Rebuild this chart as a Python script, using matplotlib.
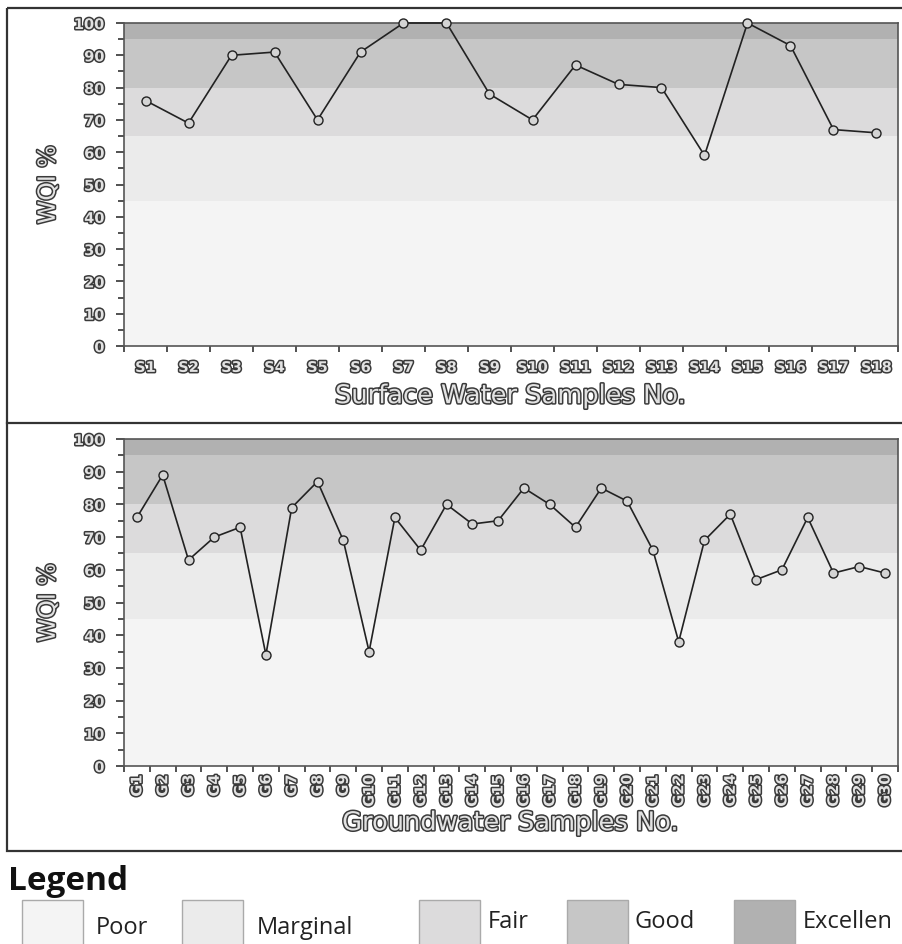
import numpy as np
from matplotlib import pyplot as plt
from matplotlib import patheffects as pe
from matplotlib.patches import Rectangle

# data
surface_labels = [f'S{i}' for i in range(1, 19)]
surface_wqi = [76, 69, 90, 91, 70, 91, 100, 100, 78, 70, 87, 81, 80, 59, 100, 93, 67, 66]

ground_labels = [f'G{i}' for i in range(1, 31)]
ground_wqi = [76, 89, 63, 70, 73, 34, 79, 87, 69, 35, 76, 66, 80, 74, 75,
              85, 80, 73, 85, 81, 66, 38, 69, 77, 57, 60, 76, 59, 61, 59]

class_names = ['Poor', 'Marginal', 'Fair', 'Good', 'Excellen']
class_bounds = [0, 45, 65, 80, 95, 100]
class_colors = ['#f4f4f4', '#ebebeb', '#dcdbdc', '#c6c6c6', '#b1b1b1']

W, H = 902, 945
outline = [pe.withStroke(linewidth=2.2, foreground='#3a3a3a')]


def px_axes(fig, left, top, right, bottom):
    return fig.add_axes([left / W, 1 - bottom / H, (right - left) / W, (bottom - top) / H])


def draw_panel(ax, labels, values, xlabel, rotate=False):
    n = len(values)
    x = np.arange(n)
    for lo, hi, c in zip(class_bounds[:-1], class_bounds[1:], class_colors):
        ax.axhspan(lo, hi, color=c, lw=0, zorder=0)
    ax.plot(x, values, color='#222222', lw=1.2, zorder=3, clip_on=False,
            marker='o', ms=6.5, mfc='#d4d4d4', mec='#222222', mew=1.0)
    ax.set_xlim(-0.5, n - 0.5)
    ax.set_ylim(0, 100)
    ax.set_yticks(np.arange(0, 101, 10))
    ax.set_yticks(np.arange(0, 101, 5), minor=True)
    ax.set_xticks(x)
    ax.set_xticks(np.arange(n + 1) - 0.5, minor=True)
    ax.set_xticklabels(labels, rotation=90 if rotate else 0)
    ax.tick_params(axis='x', which='major', length=0, pad=10 if not rotate else 6)
    ax.tick_params(axis='x', which='minor', length=4, width=1.2, color='#333333')
    ax.tick_params(axis='y', which='major', length=6, width=1.2, color='#333333', pad=8)
    ax.tick_params(axis='y', which='minor', length=4, width=1.2, color='#333333')
    for lab in ax.get_xticklabels() + ax.get_yticklabels():
        lab.set_fontsize(10.5)
        lab.set_fontweight('bold')
        lab.set_color('#e2e2e2')
        lab.set_path_effects(outline)
    for s in ax.spines.values():
        s.set_color('#555555')
        s.set_linewidth(1.2)
    ax.set_ylabel('WQI %', fontsize=17, color='#e2e2e2', path_effects=outline)
    ax.set_xlabel(xlabel, fontsize=18.5, color='#e2e2e2', path_effects=outline)
    ax.yaxis.set_label_coords(-0.083, 0.5)


fig = plt.figure(figsize=(W / 100, H / 100), dpi=100)
fig.patch.set_facecolor('white')

# frame / legend layer in pixel coordinates
bg = fig.add_axes([0, 0, 1, 1], zorder=0)
bg.set_xlim(0, W)
bg.set_ylim(H, 0)
bg.axis('off')
bg.add_patch(Rectangle((7, 9), 905, 843, fill=False, ec='#333333', lw=1.6))
bg.plot([7, 905], [424, 424], color='#333333', lw=1.6)

bg.text(8, 890, 'Legend', fontsize=24, fontweight='bold', family='Open Sans',
        va='baseline', ha='left', color='#111111')
box_x = [22, 182, 419, 567, 734]
text_x = [96, 257, 488, 634, 803]
text_y = [934, 934, 928, 928, 928]
for name, c, bx, tx, ty in zip(class_names, class_colors, box_x, text_x, text_y):
    bg.add_patch(Rectangle((bx, 901), 61, 60, fc=c, ec='#aaaaaa', lw=1.0))
    bg.text(tx, ty, name, fontsize=17, family='Open Sans', va='baseline', ha='left',
            color='#222222')

ax1 = px_axes(fig, 124, 24, 898, 347)
ax1.set_zorder(2)
draw_panel(ax1, surface_labels, surface_wqi, 'Surface Water Samples No.')
ax1.xaxis.set_label_coords(0.5, -0.115)

ax2 = px_axes(fig, 124, 440, 898, 767)
ax2.set_zorder(2)
draw_panel(ax2, ground_labels, ground_wqi, 'Groundwater Samples No.', rotate=True)
ax2.xaxis.set_label_coords(0.5, -0.135)

fig.savefig('out.png', dpi=100)
